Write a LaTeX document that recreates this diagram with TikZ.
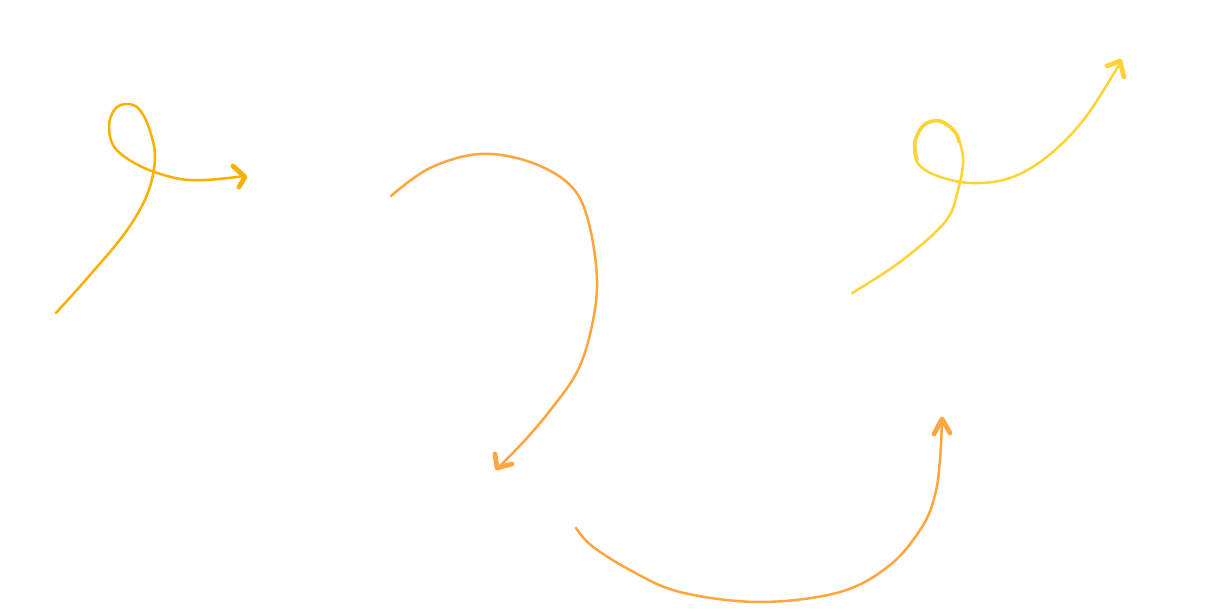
\documentclass[tikz,border=0pt]{standalone}
\begin{document}
\begin{tikzpicture}[x=1pt,y=-1pt,
  stroke/.style={line width=2.5pt,line cap=round,line join=round},
  headstroke/.style={line width=4.8pt,line cap=round,line join=round}]
\definecolor{amber}{HTML}{F9B000}
\definecolor{orng}{HTML}{FFA640}
\definecolor{yel}{HTML}{FDD335}
\useasboundingbox[fill=white] (0,0) rectangle (1207,612);
% arrow 1
\draw[stroke,amber] plot[smooth,tension=0.6] coordinates {(56,313) (90,275) (125,233) (147,195) (155,158) (149,128) (139,109) (127,104) (115,109) (109,126) (115,148) (140,166) (175,178) (205,180) (245,176)};
\draw[headstroke,amber] (233,166) -- (245,177) -- (239,187);
% arrow 2
\draw[stroke,orng] plot[smooth,tension=0.6] coordinates {(391,196) (430,168) (480,154) (530,162) (570,185) (588,220) (597,280) (591,330) (577,372) (552,408) (527,438) (500,466)};
\draw[headstroke,orng] (495,454) -- (497,468) -- (512,464);
% arrow 3
\draw[stroke,yel] plot[smooth,tension=0.6] coordinates {(852,293) (900,262) (945,222) (958,190) (963,158) (955,132) (940,121) (924,125) (915,142) (917,162) (935,175) (970,183) (1010,178) (1048,156) (1085,118) (1120,63)};
\draw[line width=3.6pt,line cap=round,yel] plot[smooth,tension=0.6] coordinates {(959,142) (955,132) (940,121) (924,125) (915,142) (917,160)};
\draw[headstroke,yel] (1107,66) -- (1120,61) -- (1124,77);
% arrow 4
\draw[stroke,orng] plot[smooth,tension=0.6] coordinates {(576,528) (592,546) (630,570) (680,592) (760,602) (840,592) (890,565) (922,527) (935,495) (940,460) (942,420)};
\draw[headstroke,orng] (934,434) -- (942,419) -- (950,433);
\end{tikzpicture}
\end{document}
